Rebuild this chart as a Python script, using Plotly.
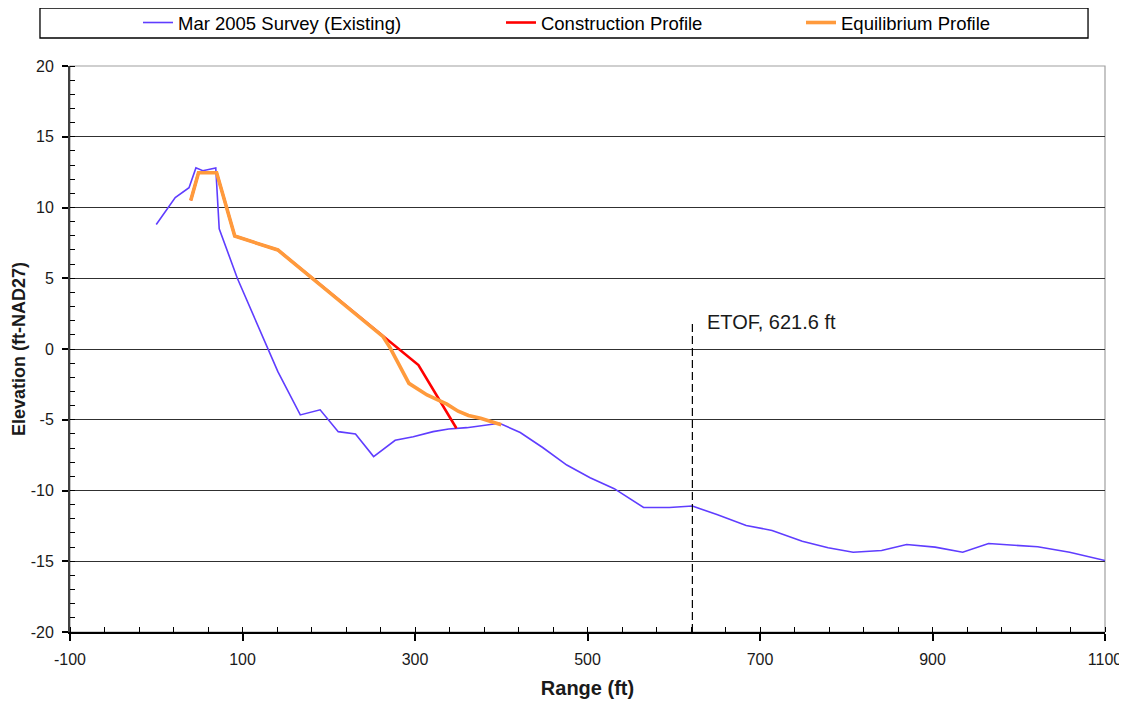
import plotly.graph_objects as go

# ---- data ----
survey_x = [0, 22, 38, 46, 54, 69, 73, 94, 141, 167, 190, 211, 231, 252, 277, 298,
            321, 339, 360, 398, 422, 448, 476, 503, 531, 565, 595, 621.6, 650, 684,
            714, 749, 779, 808, 841, 870, 903, 935, 965, 994, 1022, 1059, 1100]
survey_y = [8.8, 10.7, 11.4, 12.8, 12.6, 12.8, 8.5, 5.0, -1.6, -4.66, -4.3, -5.84, -6.0,
            -7.6, -6.45, -6.2, -5.84, -5.65, -5.56, -5.25, -5.9, -6.96, -8.2, -9.1, -9.87,
            -11.2, -11.2, -11.1, -11.7, -12.47, -12.82, -13.58, -14.05, -14.36, -14.24,
            -13.82, -14.0, -14.36, -13.75, -13.85, -13.98, -14.36, -14.95]

constr_x = [40, 49, 70, 91, 141, 263, 304, 348]
constr_y = [10.5, 12.46, 12.46, 7.98, 7.0, 0.87, -1.13, -5.6]

equil_x = [40, 49, 70, 91, 141, 263, 271, 283, 293, 314, 337, 350, 362, 376, 400]
equil_y = [10.5, 12.46, 12.46, 7.98, 7.0, 0.87, 0.1, -1.25, -2.43, -3.25, -3.9, -4.4,
           -4.7, -4.9, -5.35]

etof_x = 621.6
etof_top = 1.8
etof_label = "ETOF, 621.6 ft"

names = ["Mar 2005 Survey (Existing)", "Construction Profile", "Equilibrium Profile"]

x_tickvals = [-100, 100, 300, 500, 700, 900, 1100]
x_ticktext = ["-100", "100", "300", "500", "700", "900", "1100"]
y_tickvals = [-20, -15, -10, -5, 0, 5, 10, 15, 20]
y_ticktext = ["-20", "-15", "-10", "-5", "0", "5", "10", "15", "20"]

FONT = "Liberation Sans, Arial, sans-serif"

fig = go.Figure()
fig.add_trace(go.Scatter(x=survey_x, y=survey_y, mode="lines", name=names[0],
                         line=dict(color="#5F3DFF", width=1.6), legend="legend"))
fig.add_trace(go.Scatter(x=constr_x, y=constr_y, mode="lines", name=names[1],
                         line=dict(color="#FF0000", width=2.6), legend="legend2"))
fig.add_trace(go.Scatter(x=equil_x, y=equil_y, mode="lines", name=names[2],
                         line=dict(color="#FF9A3C", width=3.6), legend="legend3"))
fig.add_trace(go.Scatter(x=[etof_x, etof_x], y=[-20, etof_top], mode="lines",
                         showlegend=False, hoverinfo="skip",
                         line=dict(color="black", width=1.2, dash="8px,4px")))

fig.add_annotation(x=etof_x, y=etof_top, text=etof_label, showarrow=False,
                   xanchor="left", yanchor="middle", xshift=13, yshift=2,
                   font=dict(family=FONT, size=20, color="#1a1a1a"))

leg_common = dict(orientation="h", yanchor="middle", y=1.076, xanchor="left",
                  bgcolor="rgba(0,0,0,0)", borderwidth=0,
                  font=dict(family=FONT, size=18.5, color="black"))
fig.update_layout(
    legend=dict(x=0.0657, **leg_common),
    legend2=dict(x=0.4164, **leg_common),
    legend3=dict(x=0.7063, **leg_common),
)

# legend frame and plot-area top/right border
fig.add_shape(type="rect", xref="paper", yref="paper", x0=-0.029, x1=0.9836,
              y0=1.0495, y1=1.1025, line=dict(color="black", width=1.3), layer="below")
fig.add_shape(type="rect", xref="paper", yref="paper", x0=0, x1=1, y0=0, y1=1,
              line=dict(color="#A0A0A0", width=1.2), layer="below")

fig.update_xaxes(range=[-100, 1100], tickmode="array", tickvals=x_tickvals,
                 ticktext=x_ticktext, automargin=False,
                 showgrid=False, zeroline=False,
                 showline=True, linecolor="black", linewidth=1.5,
                 ticks="outside", ticklen=7, tickcolor="black", tickwidth=1.5,
                 minor=dict(dtick=40, tick0=-100, ticks="inside", ticklen=5,
                            tickcolor="black", tickwidth=1.2, showgrid=False),
                 ticklabelstandoff=5,
                 tickfont=dict(family=FONT, size=16, color="#1a1a1a"),
                 title=dict(text="<b>Range (ft)</b>", standoff=14,
                            font=dict(family=FONT, size=20, color="#1a1a1a")))
fig.update_yaxes(range=[-20, 20], tickmode="array", tickvals=y_tickvals,
                 ticktext=y_ticktext, automargin=False,
                 showgrid=True, gridcolor="#303030", gridwidth=1.3,
                 zeroline=False,
                 showline=True, linecolor="#404040", linewidth=2,
                 ticks="outside", ticklen=6, tickcolor="black", tickwidth=1.5,
                 minor=dict(dtick=1, tick0=0, ticks="inside", ticklen=5,
                            tickcolor="black", tickwidth=1.2, showgrid=False),
                 ticklabelstandoff=5,
                 tickfont=dict(family=FONT, size=16, color="#1a1a1a"),
                 title=dict(text="<b>Elevation (ft-NAD27)</b>", standoff=0,
                            font=dict(family=FONT, size=18, color="#1a1a1a")))

fig.update_layout(
    width=1119, height=695,
    margin=dict(l=62, r=22, t=58, b=71, autoexpand=False),
    paper_bgcolor="white", plot_bgcolor="white",
    font=dict(family=FONT),
    hovermode="closest",
)

fig.write_html("out.html")
